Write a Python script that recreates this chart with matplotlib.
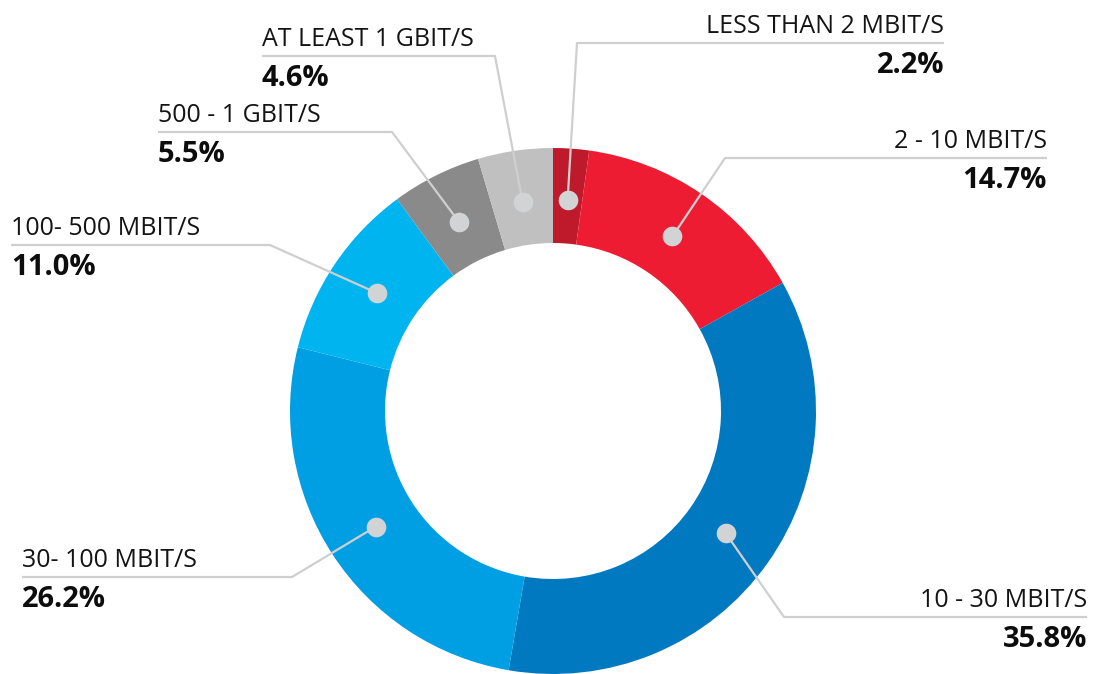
import numpy as np
import matplotlib.pyplot as plt

plt.rcParams["font.family"] = ["Open Sans", "DejaVu Sans"]

# Share of connections by download speed, clockwise from 12 o'clock.
categories = [
    "LESS THAN 2 MBIT/S",
    "2 - 10 MBIT/S",
    "10 - 30 MBIT/S",
    "30- 100 MBIT/S",
    "100- 500 MBIT/S",
    "500 - 1 GBIT/S",
    "AT LEAST 1 GBIT/S",
]
shares = [2.2, 14.7, 35.8, 26.2, 11.0, 5.5, 4.6]
colors = ["#BE1A2C", "#ED1C33", "#0079C1", "#009FE3", "#00B5EF", "#8A8A8A", "#C0C0C0"]

# Label layout in pixels (x from left, y from top): elbow point, far end of underline.
elbows = [(577, 43), (725, 158), (784, 617), (292, 577), (270, 245), (392, 132), (495, 56)]
line_ends = [944, 1047, 1087, 22, 11, 158, 262]

W, H = 1093, 674
cx, cy = 553, H - 411
r_out, r_in = 263, 168


def main() -> None:
    fig = plt.figure(figsize=(W / 100, H / 100), dpi=100)
    ax = fig.add_axes([0, 0, 1, 1])

    ax.pie(
        shares,
        colors=colors,
        startangle=90,
        counterclock=False,
        radius=r_out,
        center=(cx, cy),
        wedgeprops={"width": r_out - r_in, "linewidth": 0},
    )

    line_col = "#CFCFCF"
    r_dot = (r_out + r_in) / 2 - 4
    cum = np.cumsum(shares) - np.array(shares) / 2
    mids = np.deg2rad(90 - 360 * cum / 100)

    for name, val, ang, (ex, ey), end in zip(categories, shares, mids, elbows, line_ends):
        dx = cx + r_dot * np.cos(ang)
        dy = cy + r_dot * np.sin(ang)
        ey = H - ey
        ax.plot([dx, ex, end], [dy, ey, ey], color=line_col, lw=1.6,
                solid_capstyle="butt", zorder=3)
        ax.scatter([dx], [dy], s=200, color="#D1D3D4", zorder=4, linewidths=0)

        ha = "right" if end > ex else "left"
        ax.text(end, ey + 10, name, ha=ha, va="baseline", fontsize=18,
                color="#141414")
        ax.text(end, ey - 30, f"{val:.1f}%", ha=ha, va="baseline",
                fontsize=21, fontweight="bold", color="#0d0d0d")

    ax.set_xlim(0, W)
    ax.set_ylim(0, H)
    ax.set_aspect("auto")
    ax.axis("off")

    fig.savefig("out.png", dpi=100, facecolor="white")


if __name__ == "__main__":
    main()
